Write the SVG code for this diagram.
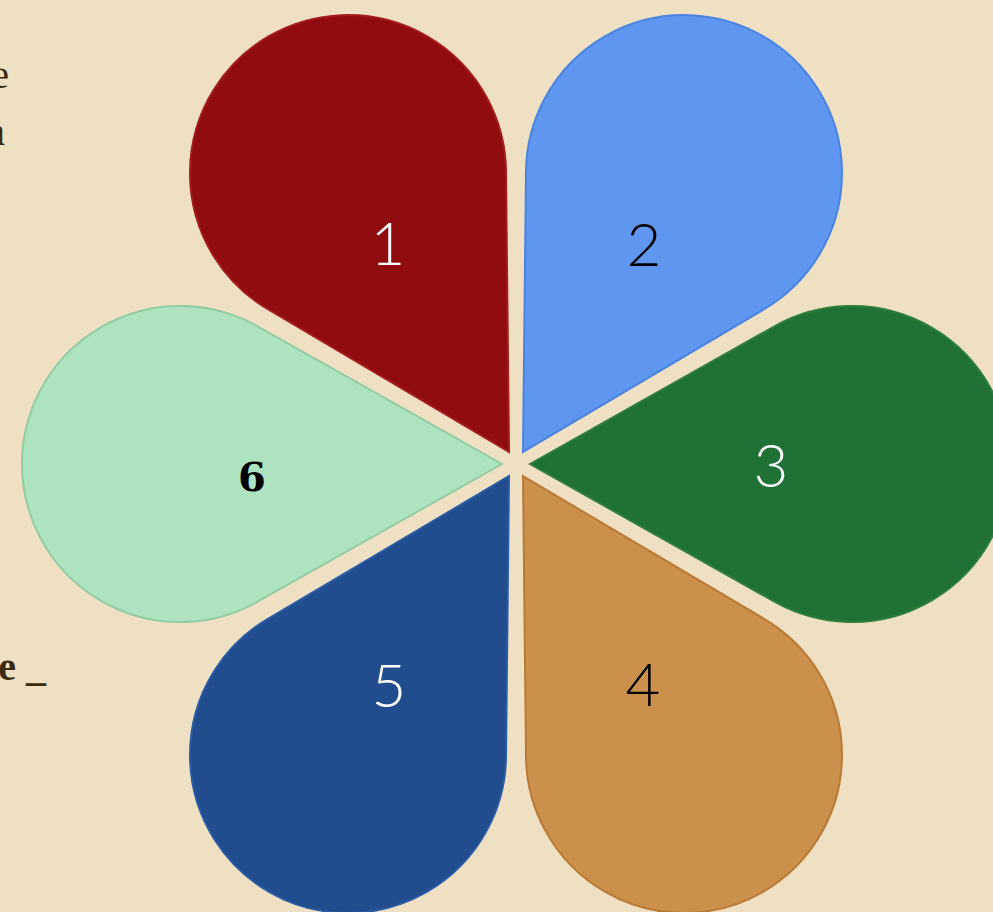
<svg xmlns="http://www.w3.org/2000/svg" width="993" height="912" viewBox="0 0 993 912">
<defs>
<path id="petal" d="M0,0 L244.5,-137.7 A158,158 0 1 1 244.5,137.7 Z"/>
</defs>
<style>
.side{font-family:"Liberation Serif",serif;font-size:40px;fill:#3b2a12}
.num{font-family:"Lato","Liberation Sans",sans-serif;font-weight:300;font-size:60px;text-anchor:middle}
.w{fill:#ffffff}
.b{fill:#000000}
</style>
<rect x="0" y="0" width="993" height="912" fill="#EFE0C3"/>
<g id="side-text">
<text class="side" x="9" y="88" text-anchor="end">e</text>
<text class="side" x="5" y="145" text-anchor="end">a</text>
<text class="side" x="46" y="680" text-anchor="end" font-weight="bold">e _</text>
</g>
<g id="connectors"></g>
<g id="petal1">
<use href="#petal" transform="translate(516,464) rotate(-120) translate(14,0)" fill="#910C0E" stroke="#A51C1C" stroke-width="2"/>
<text class="num w" x="388" y="265">1</text>
</g>
<g id="petal2">
<use href="#petal" transform="translate(516,464) rotate(-60) translate(14,0)" fill="#5F97F0" stroke="#4A84E0" stroke-width="2"/>
<text class="num b" x="644" y="266">2</text>
</g>
<g id="petal3">
<use href="#petal" transform="translate(516,464) rotate(0) translate(14,0)" fill="#207135" stroke="#2E7F3C" stroke-width="2"/>
<text class="num w" x="771" y="487">3</text>
</g>
<g id="petal4">
<use href="#petal" transform="translate(516,464) rotate(60) translate(14,0)" fill="#CC904D" stroke="#B87A35" stroke-width="2"/>
<text class="num b" x="643" y="706">4</text>
</g>
<g id="petal5">
<use href="#petal" transform="translate(516,464) rotate(120) translate(14,0)" fill="#214C8D" stroke="#2A5BA5" stroke-width="2"/>
<text class="num w" x="389" y="707">5</text>
</g>
<g id="petal6">
<use href="#petal" transform="translate(516,464) rotate(180) translate(14,0)" fill="#ADE3BE" stroke="#92CCA4" stroke-width="2"/>
<text x="252" y="491" font-family="'DejaVu Serif',serif" font-weight="bold" font-size="40" text-anchor="middle" fill="#000">6</text>
</g>
</svg>
